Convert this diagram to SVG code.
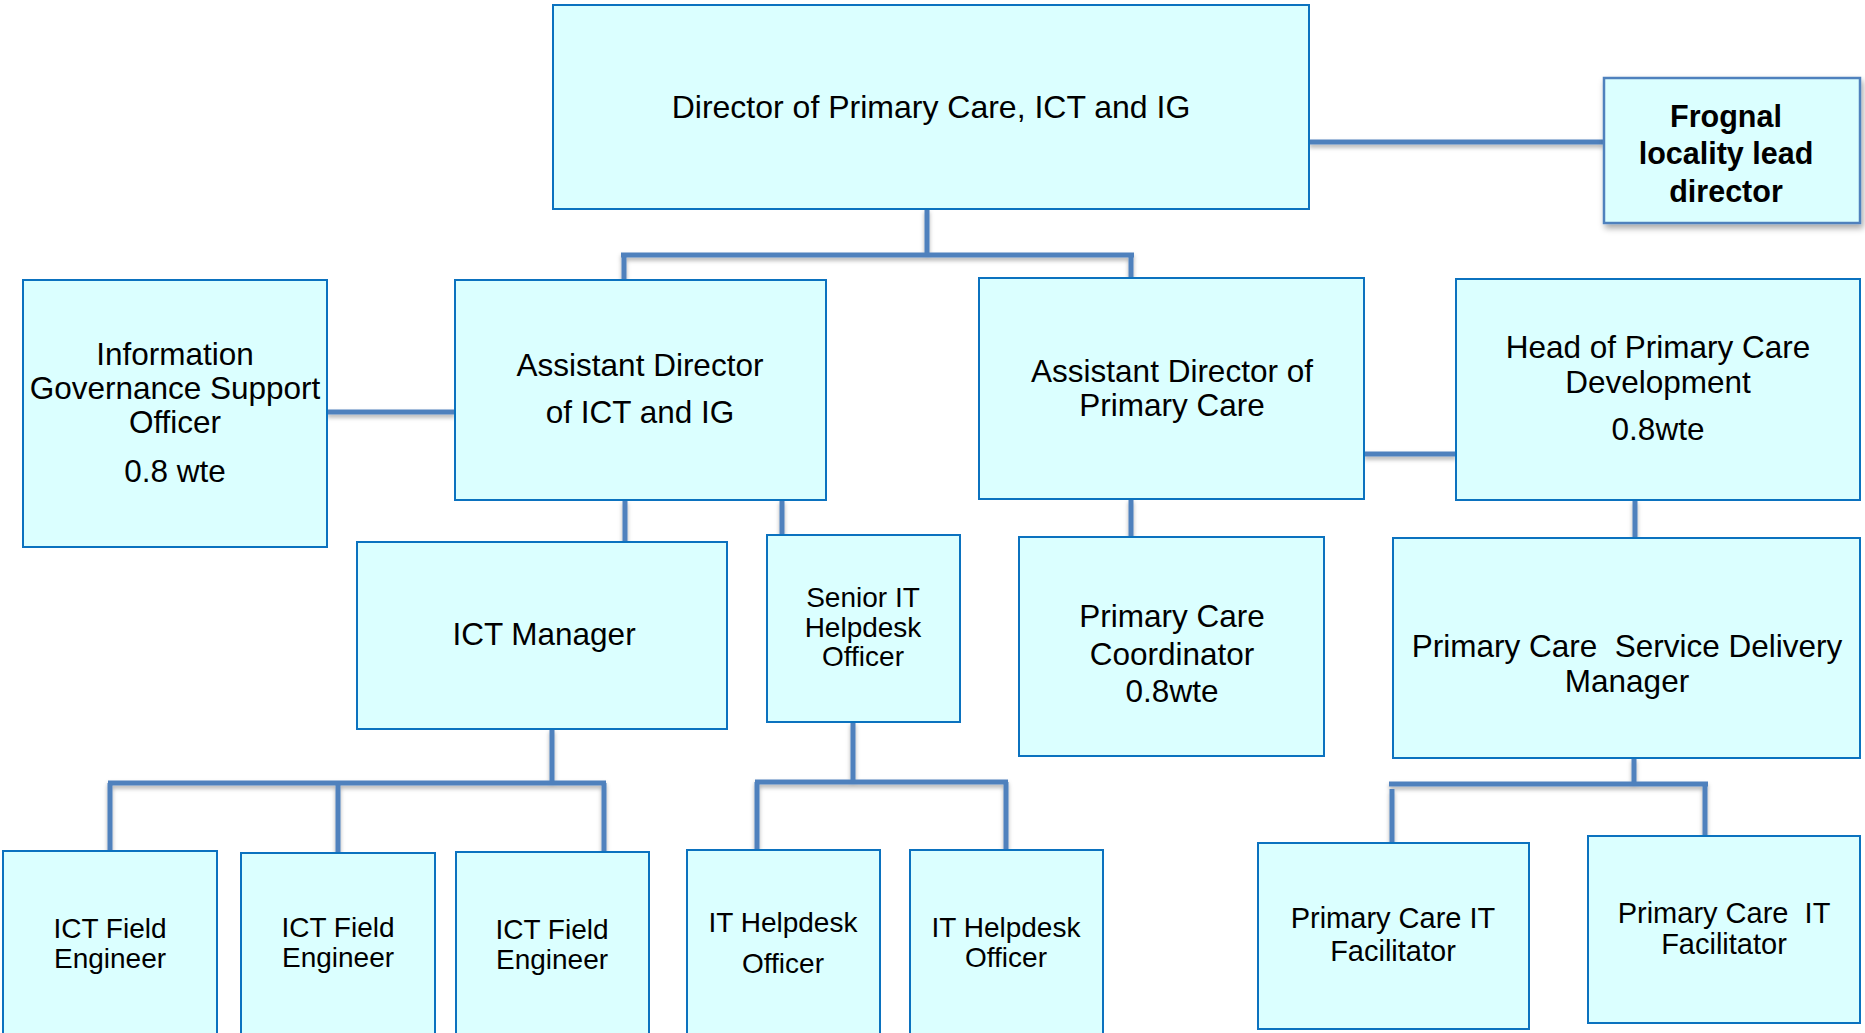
<svg xmlns="http://www.w3.org/2000/svg" width="1865" height="1033" viewBox="0 0 1865 1033">
<defs>
<filter id="sh" x="-10%" y="-10%" width="130%" height="140%">
<feDropShadow dx="2" dy="4" stdDeviation="3" flood-color="#000" flood-opacity="0.35"/>
</filter>
<filter id="lsh" x="-5%" y="-50%" width="110%" height="300%">
<feDropShadow dx="0" dy="3" stdDeviation="2" flood-color="#000" flood-opacity="0.3"/>
</filter>
</defs>
<style>
.box{fill:#DBFFFF;stroke:#0B72BF;stroke-width:2}
.fbox{fill:#DBFFFF;stroke:#4F81BD;stroke-width:2.5}
.t{font-family:"Liberation Sans",Arial,sans-serif;font-size:31.5px;fill:#000;text-anchor:middle}
.s{font-size:28px}
.f{font-size:29px}
.b{font-weight:bold;font-size:30.5px}
.c{fill:none;stroke:#4F81BD;stroke-width:5}
</style>
<rect width="1865" height="1033" fill="#fff"/>
<g id="connectors" filter="url(#lsh)">
<path class="c" d="M927,209V255M621,255H1134M624,255V280M1131,255V278"/>
<path class="c" d="M1309,142H1604"/>
<path class="c" d="M327,412H455"/>
<path class="c" d="M1364,454H1456"/>
<path class="c" d="M625,500V542M782,500V535"/>
<path class="c" d="M1131,499V537"/>
<path class="c" d="M1635,500V538"/>
<path class="c" d="M552,729V783M108,783H606M110,783V851M338,783V853M604,783V852"/>
<path class="c" d="M853,722V782M755,782H1008M757,782V850M1006,782V850"/>
<path class="c" d="M1634,758V784M1389,784H1708M1392,789V843M1705,784V836"/>
</g>
<g id="director">
<rect class="box" x="553" y="5" width="756" height="204"/>
<text class="t" x="931" y="118" style="font-size:32px">Director of Primary Care, ICT and IG</text>
</g>
<g id="frognal">
<rect class="fbox" x="1604" y="78" width="256" height="145" filter="url(#sh)"/>
<text class="t b" x="1726" y="127">Frognal</text>
<text class="t b" x="1726" y="164">locality lead</text>
<text class="t b" x="1726" y="202">director</text>
</g>
<g id="ig-officer">
<rect class="box" x="23" y="280" width="304" height="267"/>
<text class="t" x="175" y="365">Information</text>
<text class="t" x="175" y="399">Governance Support</text>
<text class="t" x="175" y="433">Officer</text>
<text class="t" x="175" y="482">0.8 wte</text>
</g>
<g id="ad-ict">
<rect class="box" x="455" y="280" width="371" height="220"/>
<text class="t" x="640" y="376">Assistant Director</text>
<text class="t" x="640" y="423">of ICT and IG</text>
</g>
<g id="ad-pc">
<rect class="box" x="979" y="278" width="385" height="221"/>
<text class="t" x="1172" y="382">Assistant Director of</text>
<text class="t" x="1172" y="416">Primary Care</text>
</g>
<g id="head-pcd">
<rect class="box" x="1456" y="279" width="404" height="221"/>
<text class="t" x="1658" y="358">Head of Primary Care</text>
<text class="t" x="1658" y="393">Development</text>
<text class="t" x="1658" y="440">0.8wte</text>
</g>
<g id="ict-manager">
<rect class="box" x="357" y="542" width="370" height="187"/>
<text class="t" x="544" y="645">ICT Manager</text>
</g>
<g id="senior-it">
<rect class="box" x="767" y="535" width="193" height="187"/>
<text class="t s" x="863" y="607">Senior IT</text>
<text class="t s" x="863" y="637">Helpdesk</text>
<text class="t s" x="863" y="666">Officer</text>
</g>
<g id="pc-coordinator">
<rect class="box" x="1019" y="537" width="305" height="219"/>
<text class="t" x="1172" y="627">Primary Care</text>
<text class="t" x="1172" y="665">Coordinator</text>
<text class="t" x="1172" y="702">0.8wte</text>
</g>
<g id="pcsd-manager">
<rect class="box" x="1393" y="538" width="467" height="220"/>
<text class="t" x="1627" y="657" xml:space="preserve">Primary Care  Service Delivery</text>
<text class="t" x="1627" y="692">Manager</text>
</g>
<g id="ict-fe-1">
<rect class="box" x="3" y="851" width="214" height="200"/>
<text class="t s" x="110" y="938">ICT Field</text>
<text class="t s" x="110" y="968">Engineer</text>
</g>
<g id="ict-fe-2">
<rect class="box" x="241" y="853" width="194" height="200"/>
<text class="t s" x="338" y="937">ICT Field</text>
<text class="t s" x="338" y="967">Engineer</text>
</g>
<g id="ict-fe-3">
<rect class="box" x="456" y="852" width="193" height="200"/>
<text class="t s" x="552" y="939">ICT Field</text>
<text class="t s" x="552" y="969">Engineer</text>
</g>
<g id="it-helpdesk-1">
<rect class="box" x="687" y="850" width="193" height="200"/>
<text class="t s" x="783" y="932">IT Helpdesk</text>
<text class="t s" x="783" y="973">Officer</text>
</g>
<g id="it-helpdesk-2">
<rect class="box" x="910" y="850" width="193" height="200"/>
<text class="t s" x="1006" y="937">IT Helpdesk</text>
<text class="t s" x="1006" y="967">Officer</text>
</g>
<g id="pc-it-fac-1">
<rect class="box" x="1258" y="843" width="271" height="186"/>
<text class="t f" x="1393" y="928">Primary Care IT</text>
<text class="t f" x="1393" y="961">Facilitator</text>
</g>
<g id="pc-it-fac-2">
<rect class="box" x="1588" y="836" width="272" height="187"/>
<text class="t f" x="1724" y="923" xml:space="preserve">Primary Care  IT</text>
<text class="t f" x="1724" y="954">Facilitator</text>
</g>
</svg>
